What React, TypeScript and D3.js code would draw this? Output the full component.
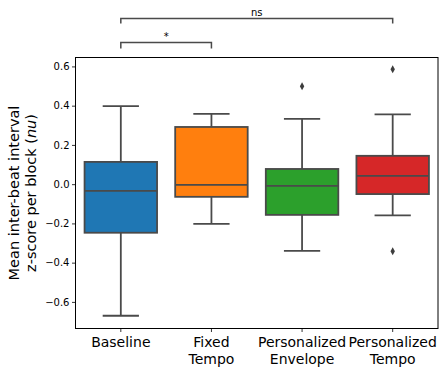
import React from 'react';
import * as d3 from 'd3';

const categories = ['Baseline', 'Fixed\nTempo', 'Personalized\nEnvelope', 'Personalized\nTempo'];
const colors = ['#1f77b4', '#ff7f0e', '#2ca02c', '#d62728'];
const whiskerLow = [-0.668, -0.2, -0.337, -0.157];
const q1 = [-0.245, -0.062, -0.154, -0.048];
const median = [-0.032, -0.001, -0.006, 0.045];
const q3 = [0.116, 0.294, 0.08, 0.147];
const whiskerHigh = [0.4, 0.361, 0.335, 0.358];
const outliers = [[], [], [0.502], [0.588, -0.339]];
const yTicks = [-0.6, -0.4, -0.2, 0.0, 0.2, 0.4, 0.6];
const brackets = [
  { from: 0, to: 1, label: '*', level: 0 },
  { from: 0, to: 3, label: 'ns', level: 1 },
];

const W = 448;
const H = 373;
const left = 75.5;
const right = 438;
const top = 57.5;
const bottom = 328.5;
const lineColor = '#4a4a4a';
const font = 'DejaVu Sans, sans-serif';

const App = () => {
  const x = d3.scaleBand().domain(categories).range([left, right]).paddingInner(0).paddingOuter(0);
  const y = d3.scaleLinear().domain([-0.733, 0.648]).range([bottom, top]);
  const bw = x.bandwidth() * 0.8;
  const capW = bw / 2;
  const cx = (i) => x(categories[i]) + x.bandwidth() / 2;
  const fmt = d3.format('.1f');

  return (
    <div style={{ position: 'fixed', left: 0, top: 0 }}>
      <svg width={W} height={H} style={{ display: 'block', background: '#fff' }} fontFamily={font}>
        {/* boxes */}
        {categories.map((c, i) => {
          const xc = cx(i);
          return (
            <g key={c}>
              <line x1={xc} x2={xc} y1={y(q3[i])} y2={y(whiskerHigh[i])} stroke={lineColor} strokeWidth={1.8} />
              <line x1={xc} x2={xc} y1={y(q1[i])} y2={y(whiskerLow[i])} stroke={lineColor} strokeWidth={1.8} />
              <line x1={xc - capW / 2} x2={xc + capW / 2} y1={y(whiskerHigh[i])} y2={y(whiskerHigh[i])} stroke={lineColor} strokeWidth={1.8} />
              <line x1={xc - capW / 2} x2={xc + capW / 2} y1={y(whiskerLow[i])} y2={y(whiskerLow[i])} stroke={lineColor} strokeWidth={1.8} />
              <rect x={xc - bw / 2} width={bw} y={y(q3[i])} height={y(q1[i]) - y(q3[i])} fill={colors[i]} stroke={lineColor} strokeWidth={1.8} />
              <line x1={xc - bw / 2} x2={xc + bw / 2} y1={y(median[i])} y2={y(median[i])} stroke={lineColor} strokeWidth={1.8} />
              {outliers[i].map((v, k) => {
                const py = y(v);
                return <path key={k} d={`M${xc},${py - 4} L${xc + 2.2},${py} L${xc},${py + 4} L${xc - 2.2},${py} Z`} fill="#3d3d3d" />;
              })}
            </g>
          );
        })}

        {/* frame */}
        <rect x={left} y={top} width={right - left} height={bottom - top} fill="none" stroke="#000" strokeWidth={1} />

        {/* y axis */}
        {yTicks.map((t) => (
          <g key={t} transform={`translate(0,${y(t)})`}>
            <line x1={left - 3.5} x2={left} stroke="#000" strokeWidth={0.8} />
            <text x={left - 6} dy="0.32em" textAnchor="end" fontSize={10} fill="#000">
              {fmt(t).replace('-', '\u2212')}
            </text>
          </g>
        ))}

        {/* x axis */}
        {categories.map((c, i) => (
          <g key={c} transform={`translate(${cx(i)},0)`}>
            <line y1={bottom} y2={bottom + 3.5} stroke="#000" strokeWidth={0.8} />
            {c.split('\n').map((s, k) => (
              <text key={k} y={347 + k * 16.5} textAnchor="middle" fontSize={14} fill="#000">
                {s}
              </text>
            ))}
          </g>
        ))}

        {/* y label */}
        <g transform={`translate(0,${(top + bottom) / 2}) rotate(-90)`}>
          <text x={0} y={19} textAnchor="middle" fontSize={14.5} fill="#000">Mean inter-beat interval</text>
          <text x={0} y={35.5} textAnchor="middle" fontSize={14.5} fill="#000">
            z-score per block (<tspan fontStyle="italic">nu</tspan>)
          </text>
        </g>

        {/* significance brackets */}
        {brackets.map((b) => {
          const yb = b.level === 0 ? 42.5 : 18.5;
          const leg = b.level === 0 ? 6 : 5;
          const x1 = cx(b.from);
          const x2 = cx(b.to);
          return (
            <g key={b.label}>
              <path d={`M${x1},${yb + leg} V${yb} H${x2} V${yb + leg}`} fill="none" stroke={lineColor} strokeWidth={1.5} />
              <text x={(x1 + x2) / 2} y={yb - 3} textAnchor="middle" fontSize={10} fill="#000">{b.label}</text>
            </g>
          );
        })}
      </svg>
    </div>
  );
};

export default App;
